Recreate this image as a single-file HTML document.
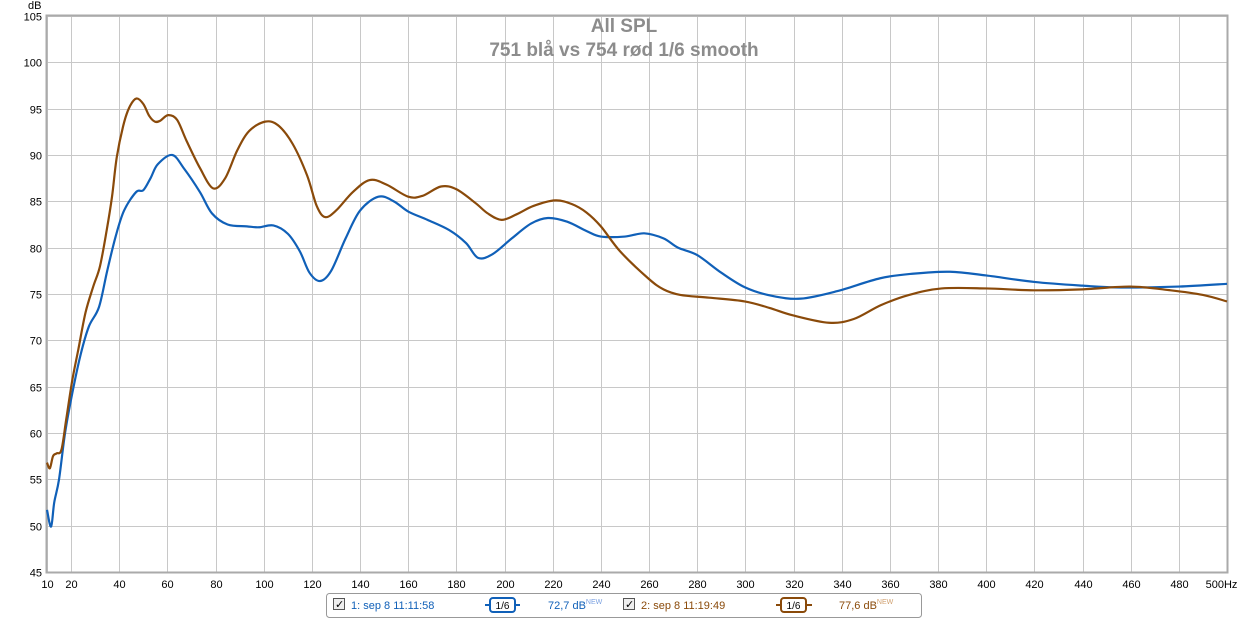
<!DOCTYPE html>
<html><head><meta charset="utf-8"><style>
body{margin:0;background:#fff;width:1249px;height:620px;overflow:hidden;font-family:"Liberation Sans",sans-serif}
svg{display:block}
</style></head><body>
<svg id="c" width="1249" height="620">
<rect x="0" y="0" width="1249" height="620" fill="#fff"/>
<g id="grid"></g>
<g id="axes"></g>
<text x="624" y="32" text-anchor="middle" font-size="19" font-weight="bold" fill="#8c8c8c">All SPL</text>
<text x="624" y="56" text-anchor="middle" font-size="19" font-weight="bold" fill="#8c8c8c">751 blå vs 754 rød 1/6 smooth</text>
<g id="series"></g>
<g>
<rect x="326.5" y="593.5" width="595" height="24" rx="3" fill="#fff" stroke="#999"/>
<g><rect x="333.5" y="598.5" width="11" height="11" fill="#eee" stroke="#555"/><text x="335" y="608" font-size="11">✓</text></g>
<text x="351" y="609" font-size="11" fill="#1060b8">1: sep 8 11:11:58</text>
<g><line x1="485" y1="605" x2="520" y2="605" stroke="#1060b8" stroke-width="2"/><rect x="490" y="598" width="25" height="14" rx="3" fill="#fff" stroke="#1060b8" stroke-width="2"/><text x="502.5" y="609" font-size="10" text-anchor="middle" fill="#000">1/6</text></g>
<text x="548" y="609" font-size="11" fill="#1060b8">72,7 dB<tspan font-size="7" dy="-5" fill="#7aa0e0">NEW</tspan></text>
<g><rect x="623.5" y="598.5" width="11" height="11" fill="#eee" stroke="#555"/><text x="625" y="608" font-size="11">✓</text></g>
<text x="641" y="609" font-size="11" fill="#8a4a0a">2: sep 8 11:19:49</text>
<g><line x1="776" y1="605" x2="812" y2="605" stroke="#8a4a0a" stroke-width="2"/><rect x="781" y="598" width="25" height="14" rx="3" fill="#fff" stroke="#8a4a0a" stroke-width="2"/><text x="793.5" y="609" font-size="10" text-anchor="middle" fill="#000">1/6</text></g>
<text x="839" y="609" font-size="11" fill="#8a4a0a">77,6 dB<tspan font-size="7" dy="-5" fill="#d0a070">NEW</tspan></text>
</g>
</svg>
<script>
const xTicks=[10,20,40,60,80,100,120,140,160,180,200,220,240,260,280,300,320,340,360,380,400,420,440,460,480,500];
const yTicks=[45,50,55,60,65,70,75,80,85,90,95,100,105];
const blueF=[10,11.7,13,15,17.5,20.5,24,27.4,31.6,35,38.5,42,47,50,53,56,62,67,73.5,78.5,85,93,98,104,110,115,119,123.4,128,134,140,147.6,154,160,168,177,184,189,195,203,211,218,226,234,240,250,258,266,272,280,290,300,311,323,338,356,370,385,400,420,440,456,480,500];
const blueDb=[51.7,49.9,52.5,55,60,64.3,68.5,71.5,73.6,77.5,81.2,84,86,86.2,87.5,89,90,88.5,86,83.7,82.5,82.3,82.2,82.4,81.5,79.6,77.3,76.4,77.5,81,84,85.5,85,83.9,83,81.9,80.5,78.9,79.3,81,82.6,83.2,82.8,81.8,81.2,81.2,81.55,81,80,79.2,77.3,75.7,74.8,74.5,75.3,76.7,77.2,77.4,77,76.3,75.9,75.7,75.8,76.1];
const brownF=[10,11.2,12.5,14,16,18,20.5,23,26,29.2,32,34.8,37,39,42,44.5,47.2,50,52.5,54.8,57,60.3,64,68,73.5,79,84,89,94,100.6,106,112,118,122,125.5,130,137,144,151,160,166,173.6,180,188,193,198.8,205,212,221,228,234,240,248,259.6,266,273,285,299.7,310,319.7,334.7,345,356.3,368,381.5,400,419.8,440,459.9,476.6,490,500];
const brownDb=[56.8,56.2,57.5,57.8,58.2,61.5,65.7,69,73,75.8,78,81.9,85.5,89.8,93.5,95.3,96.1,95.5,94.2,93.6,93.7,94.3,93.8,91.5,88.6,86.4,87.5,90.5,92.6,93.6,93.2,91.2,87.8,84.5,83.3,84,86,87.3,86.8,85.5,85.6,86.6,86.3,84.8,83.7,83,83.6,84.5,85.1,84.7,83.8,82.3,79.6,76.7,75.5,74.9,74.6,74.2,73.5,72.7,71.9,72.3,73.8,74.9,75.6,75.6,75.4,75.5,75.8,75.4,74.9,74.2];
const X0=47,X1=1227,Y0=16,Y1=572;
function xs(f){return X0+(f-10)/(500-10)*(X1-X0);}
function ys(d){return Y0+(105-d)/(105-45)*(Y1-Y0);}
const NS="http://www.w3.org/2000/svg";
function mk(tag,attrs,parent){const e=document.createElementNS(NS,tag);for(const k in attrs)e.setAttribute(k,attrs[k]);parent.appendChild(e);return e;}
const grid=document.getElementById('grid'),axes=document.getElementById('axes'),series=document.getElementById('series');
xTicks.forEach(t=>{const x=Math.round(xs(t))+0.5;
 const l=mk('line',{x1:x,y1:Y0,x2:x,y2:Y1,stroke:'#c8c8c8'},grid);
 
 
 const tx=mk('text',{x:t===500?x-6:x,y:588,'font-size':11,'text-anchor':'middle',fill:'#000'},axes);
 tx.textContent=t===500?'500Hz':String(t);
 
 
});
yTicks.forEach(t=>{const y=Math.round(ys(t))+0.5;
 const l=mk('line',{x1:X0,y1:y,x2:X1,y2:y,stroke:'#c8c8c8'},grid);
 
 
 const tx=mk('text',{x:42,y:y+4,'font-size':11,'text-anchor':'end',fill:'#000'},axes);
 tx.textContent=String(t);
 
 
});
const fr=mk('rect',{x:X0-0.5,y:Y0-0.5,width:X1-X0+1,height:Y1-Y0+1,fill:'none',stroke:'#aaa','stroke-width':2},axes);


const du=mk('text',{x:28,y:9,'font-size':11,fill:'#000'},axes);du.textContent='dB';


function path(F,D){const p=F.map((f,i)=>[xs(f),ys(D[i])]);let d='M'+p[0][0]+','+p[0][1];
 for(let i=0;i<p.length-1;i++){const a=p[i-1]||p[i],b=p[i],c=p[i+1],e=p[i+2]||c;
  d+=' C'+(b[0]+(c[0]-a[0])/6)+','+(b[1]+(c[1]-a[1])/6)+' '+(c[0]-(e[0]-b[0])/6)+','+(c[1]-(e[1]-b[1])/6)+' '+c[0]+','+c[1];}
 return d;}
const pb=mk('path',{d:path(blueF,blueDb),fill:'none',stroke:'#1060b8','stroke-width':2.2},series);


const pr=mk('path',{d:path(brownF,brownDb),fill:'none',stroke:'#8a4a0a','stroke-width':2.2},series);


</script>
</body></html>
